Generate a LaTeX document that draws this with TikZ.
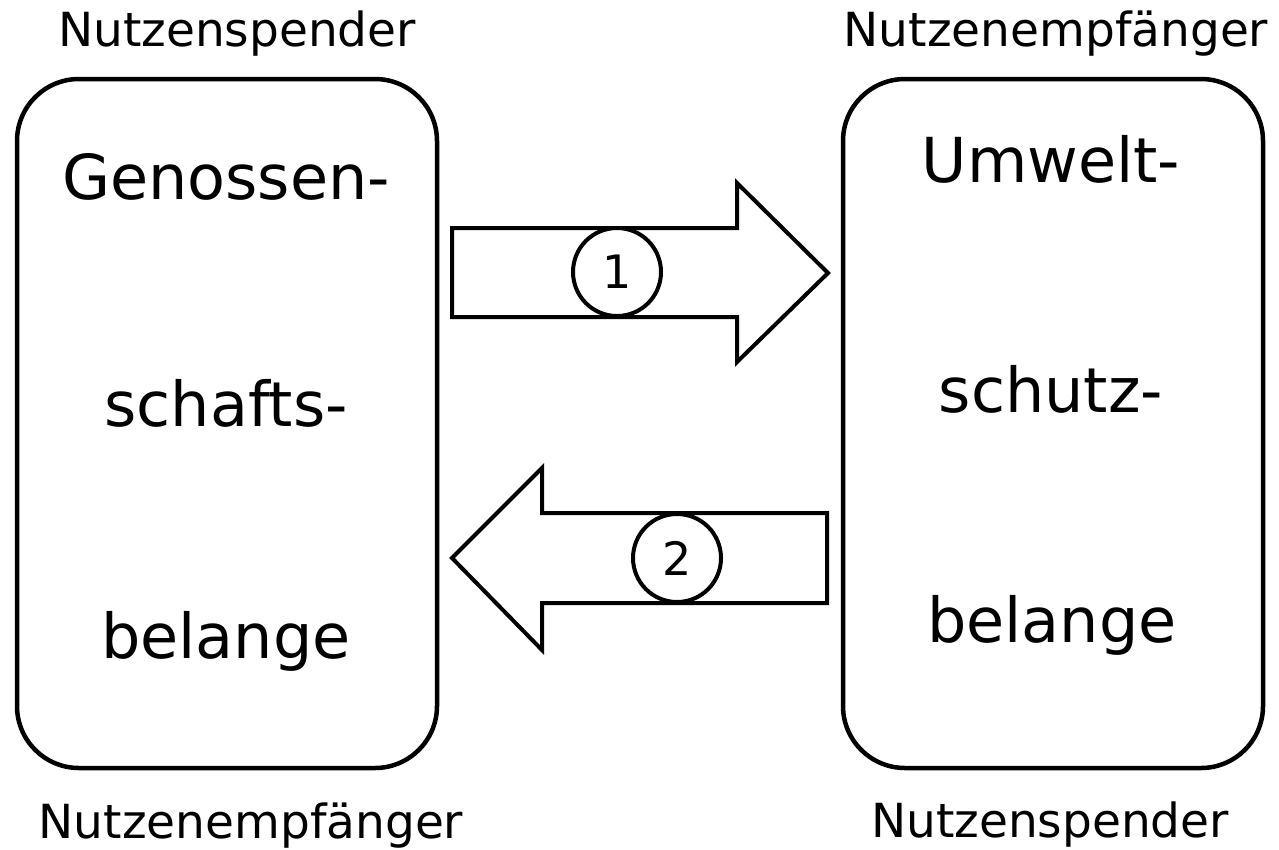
\documentclass[tikz,border=0pt]{standalone}
\usepackage{fontspec}
\setmainfont{DejaVu Sans}
\begin{document}
\begin{tikzpicture}[x=1pt,y=-1pt,
  party/.style={draw=black, line width=4.5pt, rounded corners=62pt,
    minimum width=420pt, minimum height=689pt, inner sep=0pt},
  bigtext/.style={anchor=base, inner sep=0pt, font=\fontsize{62}{74}\selectfont},
  role/.style={anchor=base, inner sep=0pt, font=\fontsize{47}{56}\selectfont},
  flow/.style={draw=black, line width=4pt, fill=white, line join=miter},
  badge/.style={circle, draw=black, line width=4pt, fill=white,
    minimum size=88pt, inner sep=0pt, font=\fontsize{46}{55}\selectfont}]
\useasboundingbox (0,0) rectangle (1279,849);

% two parties
\node[party] (left)  at (227,423.5) {};
\node[party] (right) at (1053,423.5) {};

% labels inside the boxes
\node[bigtext] (l1) at (226,199) {Genossen-};
\node[bigtext] (l2) at (226,426) {schafts-};
\node[bigtext] (l3) at (226,658) {belange};
\node[bigtext] (r1) at (1051,182) {Umwelt-};
\node[bigtext] (r2) at (1051,412) {schutz-};
\node[bigtext] (r3) at (1052,642) {belange};

% roles above and below
\node[role] (tl) at (237,46) {Nutzenspender};
\node[role] (tr) at (1056,46) {Nutzenempfänger};
\node[role] (bl) at (251,838) {Nutzenempfänger};
\node[role] (br) at (1050,837) {Nutzenspender};

% block arrows between the parties
\coordinate (a1) at (452,273);
\coordinate (a2) at (828,273);
\draw[flow] (452,228) -- (737,228) -- (737,183) -- (a2) -- (737,362)
  -- (737,317) -- (452,317) -- cycle;
\coordinate (b1) at (827,558);
\coordinate (b2) at (452,558);
\draw[flow] (827,513) -- (542,513) -- (542,468) -- (b2) -- (542,650)
  -- (542,603) -- (827,603) -- cycle;

% numbered markers
\node[badge] (n1) at (617,272) {1};
\node[badge] (n2) at (677,558) {2};
\end{tikzpicture}
\end{document}
